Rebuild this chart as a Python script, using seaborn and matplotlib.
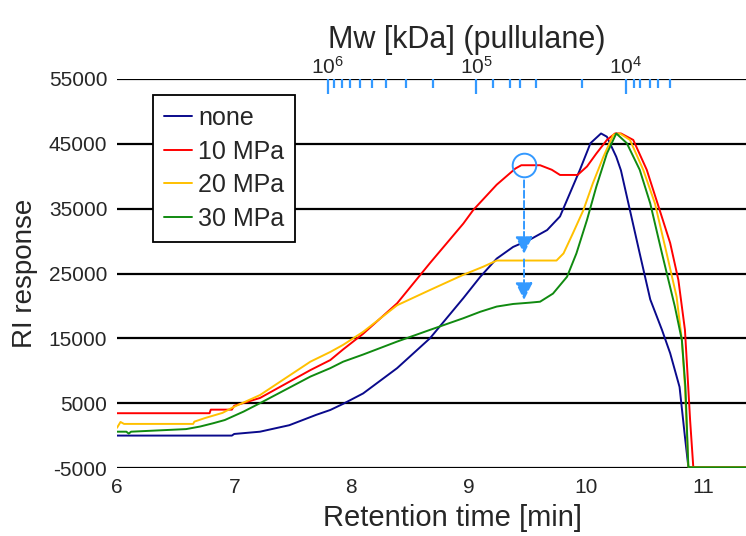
import numpy as np
import pandas as pd
import matplotlib
matplotlib.use('Agg')
import matplotlib.pyplot as plt
import seaborn as sns

# retention time [min] / RI response
t_none = [6.0, 6.98, 7.0, 7.22, 7.47, 7.7, 7.82, 7.93, 8.1, 8.39, 8.67, 8.955, 9.1, 9.24, 9.38,
          9.52, 9.67, 9.78, 9.865, 9.95, 10.04, 10.13, 10.18, 10.26, 10.30, 10.38, 10.46, 10.55,
          10.65, 10.72, 10.80, 10.846, 10.875, 10.9, 11.4]
v_none = [0, 0, 250, 600, 1600, 3200, 3950, 4900, 6500, 10400, 15000, 21200, 24500, 27300, 29100,
          30200, 31700, 33800, 37400, 41000, 45100, 46600, 46100, 43000, 40900, 34500, 28100, 21000,
          16300, 12700, 7500, -200, -4800, -4900, -4900]

t_10 = [6.0, 6.79, 6.8, 6.98, 7.0, 7.22, 7.65, 7.82, 7.93, 8.10, 8.39, 8.67, 8.955, 9.04, 9.24,
        9.40, 9.45, 9.61, 9.71, 9.78, 9.93, 10.01, 10.09, 10.18, 10.25, 10.30, 10.405, 10.52,
        10.63, 10.72, 10.79, 10.846, 10.866, 10.89, 10.917, 10.93, 11.4]
v_10 = [3450, 3450, 4000, 4000, 4600, 5800, 10100, 11650, 13300, 15700, 20400, 26600, 32700, 34800, 38700,
        41200, 41700, 41700, 41000, 40200, 40200, 41500, 43500, 45600, 46600, 46600, 45600, 41000,
        34800, 29700, 24000, 16300, 10100, 2400, -4800, -4900, -4900]

t_20 = [6.0, 6.03, 6.06, 6.65, 6.66, 6.75, 6.9, 7.0, 7.22, 7.65, 7.82, 7.93, 8.10, 8.39, 8.67,
        8.955, 9.125, 9.24, 9.52, 9.75, 9.81, 9.89, 9.98, 10.06, 10.15, 10.235, 10.29, 10.377,
        10.49, 10.59, 10.69, 10.775, 10.82, 10.846, 10.875, 10.89, 11.4]
v_20 = [1200, 2100, 1800, 1800, 2150, 2700, 3500, 4450, 6250, 11400, 12900, 14000, 16000, 20100, 22450,
        24800, 26050, 27000, 27000, 27000, 28100, 31200, 34800, 38900, 43000, 46400, 46600, 45600,
        41000, 35800, 28100, 21400, 14700, 7500, -4800, -4900, -4900]

t_30 = [6.0, 6.08, 6.1, 6.12, 6.59, 6.71, 6.82, 6.92, 7.08, 7.22, 7.65, 7.82, 7.93, 8.10, 8.39,
        8.67, 8.955, 9.10, 9.24, 9.38, 9.52, 9.61, 9.72, 9.84, 9.92, 10.01, 10.09, 10.18, 10.26,
        10.35, 10.46, 10.55, 10.65, 10.76, 10.82, 10.85, 10.875, 10.89, 11.4]
v_30 = [600, 600, 300, 600, 1000, 1400, 1900, 2400, 3700, 5000, 9100, 10400, 11400, 12500, 14500,
        16300, 18100, 19100, 19900, 20300, 20500, 20650, 21900, 24500, 28100, 33250, 38400, 43500, 46600,
        45100, 41000, 35800, 28100, 19900, 14700, 7500, -4800, -4900, -4900]

series = ['none', '10 MPa', '20 MPa', '30 MPa']
colors = ['#0a0a8c', '#ff0000', '#ffc000', '#108a10']

# pullulane calibration ticks (position in retention time)
mw_major_pos = [7.800, 9.063, 10.343]
mw_major_lab = ['10^6', '10^5', '10^4']
mw_minor_pos = [7.854, 7.922, 7.991, 8.076, 8.178, 8.298, 8.468, 8.694,
                9.206, 9.356, 9.441, 9.578, 9.970,
                10.414, 10.462, 10.548, 10.619, 10.719]

yticks = [-5000, 5000, 15000, 25000, 35000, 45000, 55000]
xticks = [6, 7, 8, 9, 10, 11]

df = pd.concat([
    pd.DataFrame({'t': t, 'v': v, 'series': s})
    for t, v, s in zip([t_none, t_10, t_20, t_30], [v_none, v_10, v_20, v_30], series)
])

sns.set_style('white')
plt.rcParams['font.family'] = ['Liberation Sans', 'DejaVu Sans']
plt.rcParams['axes.unicode_minus'] = False
plt.rcParams['mathtext.fontset'] = 'custom'
plt.rcParams['mathtext.rm'] = 'Liberation Sans'

fig = plt.figure(figsize=(7.46, 5.36), dpi=100)
ax = fig.add_axes([117 / 746, 1 - 468 / 536, 629 / 746, 389 / 536])

sns.lineplot(data=df, x='t', y='v', hue='series', palette=dict(zip(series, colors)),
             sort=False, estimator=None, lw=1.4, ax=ax, legend=False)

ax.set_xlim(6, 11.367)
ax.set_ylim(-5000, 55000)
ax.set_yticks(yticks)
ax.set_xticks(xticks)
ax.set_yticklabels([str(y) for y in yticks], fontsize=15)
ax.set_xticklabels([str(x) for x in xticks], fontsize=15)
ax.tick_params(axis='both', length=0)
ax.tick_params(axis='y', pad=7)
ax.tick_params(axis='x', pad=7)
ax.grid(axis='y', color='black', lw=1.6)
ax.grid(axis='x', visible=False)
for side in ['left', 'right', 'top', 'bottom']:
    ax.spines[side].set_visible(False)

ax.set_xlabel('Retention time [min]', fontsize=21)
ax.xaxis.set_label_coords(0.533, -0.093)
ax.set_ylabel('RI response', fontsize=20)
ax.yaxis.set_label_coords(-0.126, 0.5)

# molar mass axis on top
top = ax.twiny()
top.set_xlim(ax.get_xlim())
for side in ['left', 'right', 'top', 'bottom']:
    top.spines[side].set_visible(False)
top.set_xticks(mw_major_pos)
top.set_xticklabels([r'$\mathregular{%s}$' % l for l in mw_major_lab], fontsize=15)
top.set_xticks(mw_minor_pos, minor=True)
top.tick_params(axis='x', which='major', direction='in', length=11, width=1.6,
                color='#3399ff', pad=1)
top.tick_params(axis='x', which='minor', direction='in', length=6.5, width=1.6,
                color='#3399ff')
top.set_xlabel('Mw [kDa] (pullulane)', fontsize=22)
top.xaxis.set_label_coords(0.556, 1.08)
top.grid(False)

# marker for the shoulder and its shift
arrow_c = '#3399ff'
ax.plot([9.473], [41730], marker='o', ms=17, mfc='none', mec=arrow_c, mew=1.4)
ax.annotate('', xy=(9.473, 27600), xytext=(9.473, 39800),
            arrowprops=dict(arrowstyle='-|>', color=arrow_c, lw=1.4, ls='--',
                            mutation_scale=26))
ax.annotate('', xy=(9.473, 20500), xytext=(9.473, 27600),
            arrowprops=dict(arrowstyle='-|>', color=arrow_c, lw=1.4, ls='--',
                            mutation_scale=26))

handles = [plt.Line2D([], [], color=c, lw=1.4) for c in colors]
leg = ax.legend(handles, series, loc='upper left', bbox_to_anchor=(0.057, 0.959),
                fontsize=18, handlelength=1.1, handletextpad=0.25, labelspacing=0.38,
                borderpad=0.45, fancybox=False, framealpha=1, edgecolor='black',
                borderaxespad=0)
leg.get_frame().set_linewidth(1.3)

fig.savefig('out.png', dpi=100)
